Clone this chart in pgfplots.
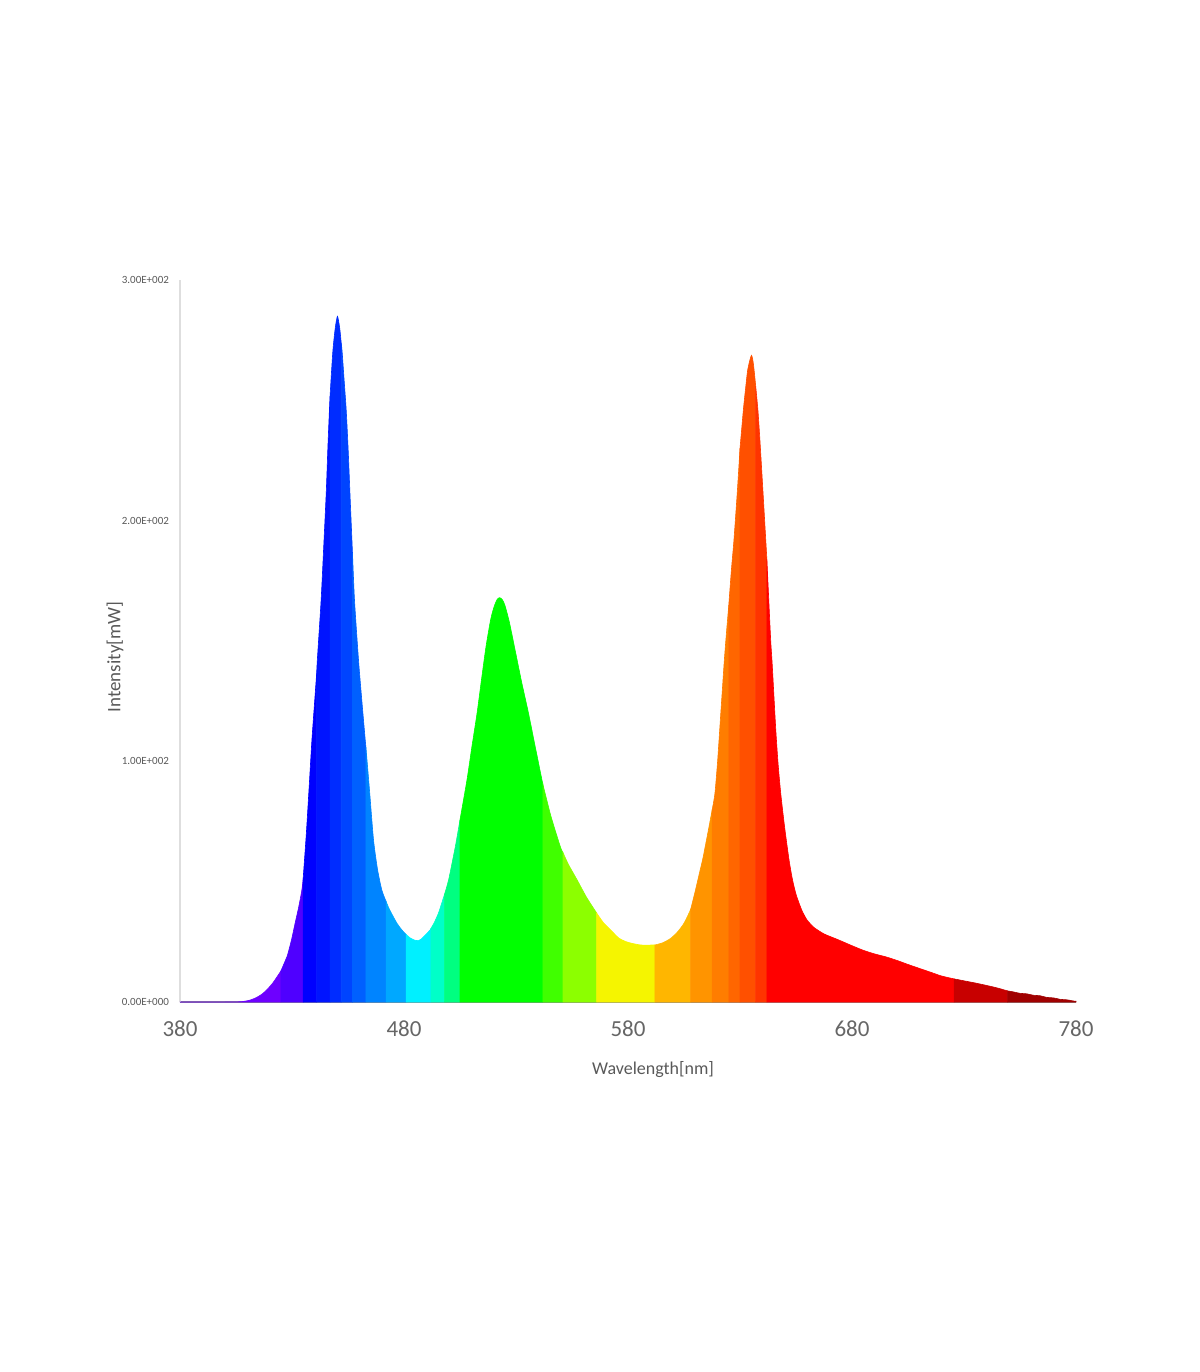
\documentclass[border=0pt]{standalone}
\usepackage{pgfplots}
\pgfplotsset{compat=1.18}
\usepackage{pgfplotstable}
\usepackage{fontspec}
\setmainfont{Carlito}

\pgfplotstableread{
x y
380 0
400 0
405 0.05
408 0.2
411.3 0.8
414 1.8
416.5 3.2
418.7 5
421.5 8
425 12.8
427.7 18.7
428 19.5
429.7 25.5
431.4 32.8
433 39.5
434.4 46.5
435 51.5
436.4 70
437.7 90
438.9 109
440.2 126
441 136.5
441.3 142
443 167
444.2 190
445.3 212
446 230
446.7 246
447 252
448.2 270
449.3 280
450.3 284.9
451.3 280
452 273.6
452.4 270
453.3 258
454.2 246
455.1 229
456 208.5
457 186.6
457.9 167
459.7 142
461.2 125
462.7 108.8
463 106
464.6 88
466.4 67.3
468.2 55
470.1 46.5
472 41.8
473.5 38.5
476.8 32.8
479 30
481 28
482.8 26.6
484.5 25.8
486 25.5
487.5 26
489.5 27.8
491.7 30
492 30.5
493.5 33
495.4 37
497.5 43
498 44.5
499.9 50.7
502.9 64.5
505 75.7
508.1 92.2
510.3 106
512.6 119.9
514.6 134
516.6 147.6
518.5 158
519.5 162
520.5 165
521.6 167.3
522.7 168
523.8 167.3
525 165
527 158
529.3 147.6
532.5 133
535.6 119.9
538.6 106
541.6 92.2
542 90.5
545.5 77.5
549.8 64.5
551 62
553.5 57
557.3 50.7
561.5 43.5
566 37
569 33
572.2 30
576 26.5
580 24.8
585.6 23.7
592 23.7
595.5 24.6
599 26.4
602 29
604.5 32
606 34.5
608 38.5
610 46
612 54
613.5 60
616 72
617.6 80
618.8 86.6
620 100
621 114
622 128
623 142
624 154
625 165
626.2 180
627.3 192
628.8 212
630 230
631.5 246
632.5 255
633.5 263
635.1 268.7
636 265
637 256
638 246
638.9 233.4
640.2 213
641.5 192
642 184
642.6 172
643.7 150.3
644.4 140
645.9 114.3
647 99
648.2 86.6
649.9 72.8
651.9 59
653.4 51
654.9 45.1
656.4 41
657.9 37.5
660 34
663 31
667.5 28.3
673.5 26
680 23.4
685 21.5
690 20
695 18.8
700 17.3
705 15.6
710 14
715 12.4
720 10.8
725.6 9.6
730 8.8
735 7.9
740 6.9
745 5.8
749.5 4.6
752 4.2
755 3.6
758 3.4
761 2.8
764 2.6
767 1.9
770 1.7
773 1.1
776 0.9
779 0.4
780 0.3
}\spec

\definecolor{b01}{HTML}{6E00FF}
\definecolor{b02}{HTML}{4F00FF}
\definecolor{b03}{HTML}{0000FF}
\definecolor{b04}{HTML}{0014FF}
\definecolor{b05}{HTML}{002CFF}
\definecolor{b06}{HTML}{0044FF}
\definecolor{b07}{HTML}{0060FF}
\definecolor{b08}{HTML}{0084FF}
\definecolor{b09}{HTML}{00A8FF}
\definecolor{b10}{HTML}{00F0FF}
\definecolor{b11}{HTML}{00FFC8}
\definecolor{b12}{HTML}{00FF80}
\definecolor{b13}{HTML}{00FF00}
\definecolor{b14}{HTML}{40FF00}
\definecolor{b15}{HTML}{8CFF00}
\definecolor{b16}{HTML}{F5F500}
\definecolor{b17}{HTML}{FFB600}
\definecolor{b18}{HTML}{FF9400}
\definecolor{b19}{HTML}{FF7D00}
\definecolor{b20}{HTML}{FF6600}
\definecolor{b21}{HTML}{FF5000}
\definecolor{b22}{HTML}{FF3400}
\definecolor{b23}{HTML}{FF0000}
\definecolor{b24}{HTML}{C80000}
\definecolor{b25}{HTML}{A00000}

\newcommand{\band}[3]{\addplot[smooth, tension=0.4, fill=#3, draw=#3, line width=0.3pt, restrict x to domain=#1:#2] table {\spec} \closedcycle;}

\begin{document}
\begin{tikzpicture}
\useasboundingbox (-90pt,-185pt) rectangle (510pt,501pt);
\begin{axis}[
  overlay,
  scale only axis, width=448pt, height=361pt,
  xmin=380, xmax=780, ymin=0, ymax=300,
  axis x line=bottom, axis y line=left,
  x axis line style={-, draw=black!45, line width=0.6pt},
  y axis line style={-, draw=black!13, line width=0.8pt},
  xtick={380,480,580,680,780}, xticklabels={380,480,580,680,780},
  ytick={0,100,200,300}, yticklabels={0.00E+000,1.00E+002,2.00E+002,3.00E+002},
  major tick length=0pt,
  xticklabel style={font=\fontsize{11.5}{13}\selectfont, text=black!60, anchor=north, yshift=-6pt},
  yticklabel style={font=\fontsize{5.5}{6.5}\selectfont, text=black!65, anchor=east, xshift=-2pt},
  xlabel={Wavelength[nm]},
  xlabel style={font=\fontsize{9}{10}\selectfont, text=black!65, at={(axis description cs:0.528,-0.0942)}, anchor=center},
  ylabel={Intensity[mW]},
  ylabel style={font=\fontsize{9.5}{11}\selectfont, text=black!65, at={(axis description cs:-0.0725,0.478)}, anchor=center},
  clip=false,
]
\band{379.99}{425.01}{b01}
\band{424.99}{435.01}{b02}
\band{434.99}{441.01}{b03}
\band{440.99}{447.01}{b04}
\band{446.99}{452.01}{b05}
\band{451.99}{457.01}{b06}
\band{456.99}{463.01}{b07}
\band{462.99}{472.01}{b08}
\band{471.99}{481.01}{b09}
\band{480.99}{492.01}{b10}
\band{491.99}{498.01}{b11}
\band{497.99}{505.01}{b12}
\band{504.99}{542.01}{b13}
\band{541.99}{551.01}{b14}
\band{550.99}{566.01}{b15}
\band{565.99}{592.01}{b16}
\band{591.99}{608.01}{b17}
\band{607.99}{617.61}{b18}
\band{617.59}{625.01}{b19}
\band{624.99}{630.01}{b20}
\band{629.99}{637.01}{b21}
\band{636.99}{642.01}{b22}
\band{641.99}{725.61}{b23}
\band{725.59}{749.51}{b24}
\band{749.49}{780.01}{b25}
\end{axis}
\end{tikzpicture}
\end{document}
